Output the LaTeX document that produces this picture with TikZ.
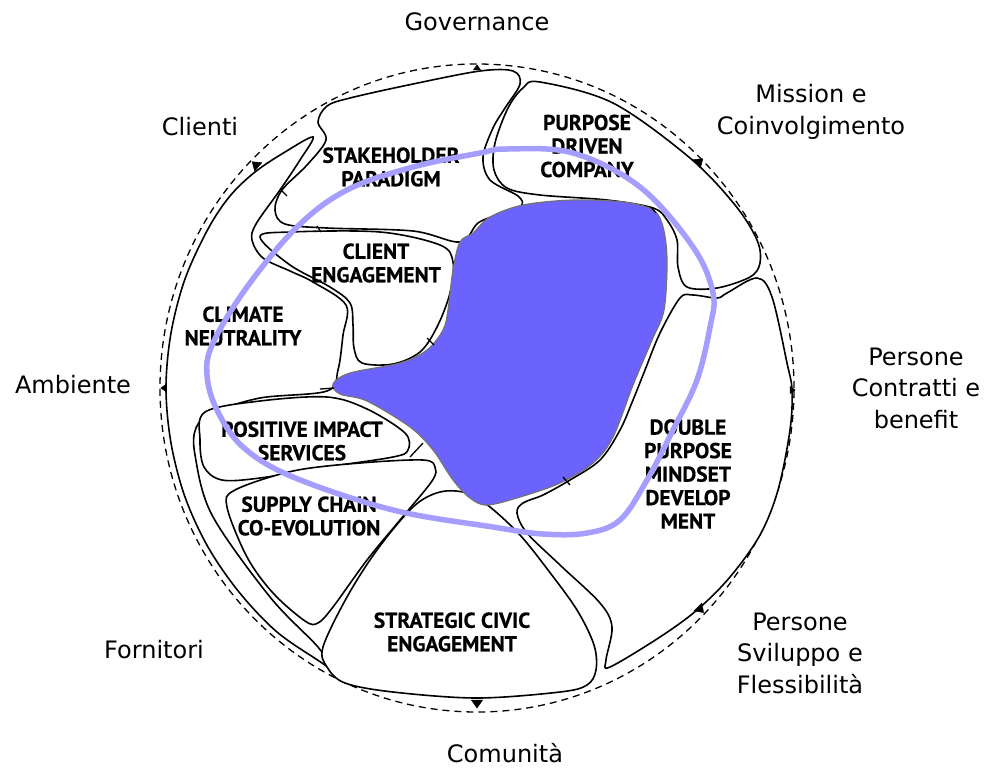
\documentclass[tikz,border=0pt]{standalone}
\usepackage{fontspec}
\setmainfont{DejaVu Sans}
\newfontfamily\areafont{PT Sans}[BoldFeatures={FakeBold=0.6}]
\usepackage{xcolor}
\usepackage{tikz}
\usetikzlibrary{calc, shapes, shapes.geometric, positioning}
\definecolor{blobfill}{RGB}{108,99,255}
\definecolor{ringline}{RGB}{166,158,255}
\tikzset{
    textnode/.style  = {draw=none, fill=none, rectangle, minimum size=0cm, inner sep = 0em,
      node distance=0em, font=\fontsize{24}{31.5}\selectfont},
    areanode/.style  = {draw=none, fill=none, rectangle, minimum size=0cm, inner sep = 0em,
      node distance=0em, font=\areafont\bfseries\fontsize{21.5}{23.5}\selectfont},
    regionline/.style = {black, line width=1.6pt, fill=white},
    blobline/.style = {draw=black!55, line width=1.2pt, fill=blobfill},
    ringpath/.style = {ringline, line width=5.5pt},
    dashring/.style = {black, line width=1.3pt, dash pattern=on 7pt off 5pt},
    tickline/.style = {black, line width=1.3pt},
    markernode/.style = {draw, fill=black, isosceles triangle, isosceles triangle apex angle=70,
      inner sep=0em, minimum size=8pt, node distance=0em},
    every text node part/.style={align=center}
}
\begin{document}
\begin{tikzpicture}[x=1pt, y=-1pt]
    \useasboundingbox (0,0) rectangle (987,769);
    \node [textnode, name=Centre] at (477,388) {};

    % outer dashed ring
    \draw [dashring] (Centre) ellipse [x radius=317pt, y radius=324pt];

    % areas
    \draw [regionline] plot [smooth cycle, tension=0.55] coordinates {(350,98) (413,84) (480,71) (513,71) (520,84) (505,108) (493,128) (483,157) (490,180) (518,196) (521,206) (500,214) (478,223) (460,242) (413,231) (327,228) (285,224) (275,210) (282,190) (307,165) (326,140) (318,122) (327,106)};
    \draw [regionline] plot [smooth cycle, tension=0.55] coordinates {(523,88) (540,82) (613,103) (690,158) (735,205) (757,240) (760,263) (750,277) (717,288) (687,287) (678,267) (677,240) (667,220) (653,208) (607,200) (540,195) (507,188) (494,170) (495,143) (508,108)};
    \draw [regionline] plot [smooth cycle, tension=0.55] coordinates {(260,237) (290,232) (380,232) (440,245) (453,262) (450,293) (437,327) (420,352) (393,364) (362,363) (354,348) (353,325) (350,303) (330,287) (290,265)};
    \draw [regionline] plot [smooth cycle, tension=0.55] coordinates {(313,137) (285,152) (255,172) (230,196) (208,229) (185,279) (171,333) (166,388) (171,443) (185,497) (208,547) (239,592) (277,632) (322,663) (352,684) (330,668) (318,647) (270,597) (212,515) (195,455) (196,428) (212,413) (260,398) (327,391) (338,370) (343,335) (346,305) (313,282) (290,271) (263,258) (252,240) (256,224) (280,190) (300,160)};
    \draw [regionline] plot [smooth cycle, tension=0.55] coordinates {(205,412) (260,401) (327,397) (367,409) (405,433) (408,450) (393,457) (327,467) (260,478) (222,480) (204,467) (200,440)};
    \draw [regionline] plot [smooth cycle, tension=0.55] coordinates {(235,490) (293,471) (360,463) (423,460) (435,467) (432,481) (400,520) (367,560) (333,607) (318,623) (305,621) (273,593) (247,557) (227,507)};
    \draw [regionline] plot [smooth cycle, tension=0.55] coordinates {(323,647) (347,597) (377,550) (413,507) (440,492) (467,493) (490,507) (520,535) (548,570) (577,610) (594,645) (596,670) (587,685) (560,692) (477,698) (393,692) (345,683) (327,667)};
    \draw [regionline] plot [smooth cycle, tension=0.55] coordinates {(757,278) (772,297) (787,363) (792,390) (790,430) (778,490) (760,535) (730,577) (697,610) (660,637) (610,667) (606,660) (612,627) (600,603) (560,565) (527,533) (517,513) (523,503) (543,495) (570,480) (600,460) (620,430) (633,400) (645,370) (660,333) (680,298) (693,295) (717,298) (727,293)};

    % core
    \draw [blobline] plot [smooth cycle, tension=0.55] coordinates {(460,242) (473,233) (490,217) (523,205) (573,200) (623,202) (653,210) (663,227) (667,260) (664,310) (652,340) (633,385) (613,437) (593,463) (560,483) (520,497) (487,505) (470,498) (453,480) (433,450) (410,427) (367,401) (340,394) (333,384) (350,373) (400,363) (427,350) (443,330) (448,310) (453,270)};

    \draw [tickline] (280,189) -- (287,196);
    \draw [tickline] (317,226) -- (321,232);
    \draw [tickline] (427,338) -- (434,345);
    \draw [tickline] (410,457) -- (423,443);
    \draw [tickline] (320,389) -- (334,388);
    \draw [tickline] (563,477) -- (570,485);
    \draw [tickline] (651,207) -- (656,213);

    \node [markernode, name=MarkTop, rotate=90, minimum size=5pt] at (477,68) {};
    \node [markernode, name=MarkClienti, rotate=140] at (256,165) {};
    \node [markernode, name=MarkLeft, rotate=180, minimum size=5pt] at (164,388) {};
    \node [markernode, name=MarkMission, rotate=40] at (699,162) {};
    \node [markernode, name=MarkRight, rotate=0, minimum size=5pt] at (792,390) {};
    \node [markernode, name=MarkSviluppo, rotate=-45] at (700,609) {};
    \node [markernode, name=MarkBottom, rotate=-90] at (477,703) {};

    % outer labels
    \node [textnode, name=Governance, above of=Centre, yshift=366pt] {Governance};
    \node [textnode, name=Clienti, left of=Centre, xshift=-277pt, yshift=261pt] {Clienti};
    \node [textnode, name=Mission, right of=Centre, xshift=334pt, yshift=276pt] {Mission e\\Coinvolgimento};
    \node [textnode, name=Contratti, right of=Centre, xshift=439pt, yshift=0pt] {Persone\\Contratti e\\benefit};
    \node [textnode, name=Ambiente, left of=Centre, xshift=-404pt, yshift=3pt] {Ambiente};
    \node [textnode, name=Sviluppo, right of=Centre, xshift=323pt, yshift=-265pt] {Persone\\Sviluppo e\\Flessibilità};
    \node [textnode, name=Fornitori, left of=Centre, xshift=-323pt, yshift=-262pt] {Fornitori};
    \node [textnode, name=Comunita, below of=Centre, xshift=28pt, yshift=-365pt] {Comunità};

    % area labels
    \node [areanode, name=Stakeholder, above of=Centre, xshift=-86pt, yshift=221pt] {STAKEHOLDER\\PARADIGM};
    \node [areanode, name=Purpose, above of=Centre, xshift=110pt, yshift=242pt] {PURPOSE\\DRIVEN\\COMPANY};
    \node [areanode, name=Client, above of=Centre, xshift=-101pt, yshift=125pt] {CLIENT\\ENGAGEMENT};
    \node [areanode, name=Climate, left of=Centre, xshift=-234pt, yshift=62pt] {CLIMATE\\NEUTRALITY};
    \node [areanode, name=Impact, left of=Centre, xshift=-175pt, yshift=-53pt] {POSITIVE IMPACT\\SERVICES};
    \node [areanode, name=Supply, left of=Centre, xshift=-168pt, yshift=-128pt] {SUPPLY CHAIN\\CO-EVOLUTION};
    \node [areanode, name=Civic, below of=Centre, xshift=-25pt, yshift=-244pt] {STRATEGIC CIVIC\\ENGAGEMENT};
    \node [areanode, name=Mindset, right of=Centre, xshift=211pt, yshift=-86pt] {DOUBLE\\PURPOSE\\MINDSET\\DEVELOP\\MENT};

    % ring
    \draw [ringpath] plot [smooth cycle, tension=0.6] coordinates {(207,375) (213,343) (247,287) (297,227) (347,190) (413,167) (480,153) (507,149) (573,153) (640,187) (693,247) (713,293) (710,327) (697,380) (673,430) (647,480) (620,520) (587,533) (543,534) (493,527) (393,510) (293,477) (243,447) (217,410)};
\end{tikzpicture}
\end{document}
